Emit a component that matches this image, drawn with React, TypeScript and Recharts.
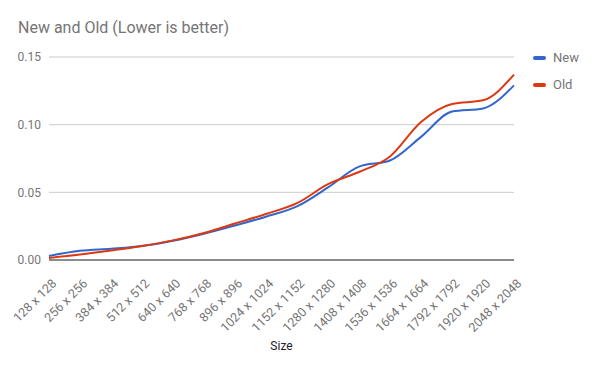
import { LineChart, Line, XAxis, YAxis, CartesianGrid } from 'recharts';

const sizes = [
  '128 x 128', '256 x 256', '384 x 384', '512 x 512', '640 x 640', '768 x 768',
  '896 x 896', '1024 x 1024', '1152 x 1152', '1280 x 1280', '1408 x 1408',
  '1536 x 1536', '1664 x 1664', '1792 x 1792', '1920 x 1920', '2048 x 2048',
];
const newVals = [0.003, 0.0068, 0.0083, 0.0103, 0.0142, 0.0194, 0.0255, 0.032, 0.0396, 0.0536, 0.069, 0.0735, 0.091, 0.1097, 0.112, 0.129];
const oldVals = [0.0015, 0.004, 0.007, 0.0103, 0.0145, 0.02, 0.027, 0.034, 0.042, 0.056, 0.065, 0.0765, 0.102, 0.1153, 0.118, 0.137];
const yTicks = [0, 0.05, 0.1, 0.15];

const data = sizes.map((s, i) => ({ size: s, New: newVals[i], Old: oldVals[i] }));

const BLUE = '#3366CC';
const RED = '#DC3912';
const FONT = 'Roboto, Arial, sans-serif';

function SizeTick({ x, y, payload }: { x?: number; y?: number; payload?: { value: string } }) {
  return (
    <text
      transform={`translate(${(x ?? 0) + 5}, ${(y ?? 0) + 13}) rotate(-45)`}
      textAnchor="end" dominantBaseline="central"
      style={{ fontSize: 12.5, fill: '#757575', fontFamily: FONT }}
    >
      {payload?.value}
    </text>
  );
}

export default function App() {
  return (
    <div style={{ position: 'absolute', left: 0, top: 0, width: 600, height: 371, background: '#fff', fontFamily: FONT }}>
      <div style={{ position: 'absolute', left: 18, top: 18, fontSize: 16, color: '#757575' }}>
        New and Old (Lower is better)
      </div>
      {[{ name: 'New', color: BLUE }, { name: 'Old', color: RED }].map((l, i) => (
        <div key={l.name} style={{ position: 'absolute', left: 533, top: 50 + i * 27, display: 'flex', alignItems: 'center' }}>
          <span style={{ width: 13, height: 4, borderRadius: 2, background: l.color, marginRight: 7 }} />
          <span style={{ fontSize: 13, color: '#757575' }}>{l.name}</span>
        </div>
      ))}
      <LineChart width={600} height={371} data={data} margin={{ top: 57, right: 86, left: 0, bottom: 0 }}>
        <CartesianGrid vertical={false} stroke="#cccccc" />
        <XAxis
          dataKey="size" interval={0} height={111} tickLine={false}
          axisLine={{ stroke: '#333333' }} tick={<SizeTick />}
          label={{ value: 'Size', position: 'insideBottom', offset: 21, style: { fontSize: 12, fill: '#222', fontFamily: FONT } }}
        />
        <YAxis
          width={49} domain={[0, 0.15]} ticks={yTicks} axisLine={false} tickLine={false}
          tickFormatter={(v: number) => v.toFixed(2)}
          tick={{ fontSize: 12, fill: '#757575', fontFamily: FONT }}
        />
        <Line type="monotone" dataKey="New" stroke={BLUE} strokeWidth={2} dot={false} isAnimationActive={false} />
        <Line type="monotone" dataKey="Old" stroke={RED} strokeWidth={2} dot={false} isAnimationActive={false} />
      </LineChart>
    </div>
  );
}
